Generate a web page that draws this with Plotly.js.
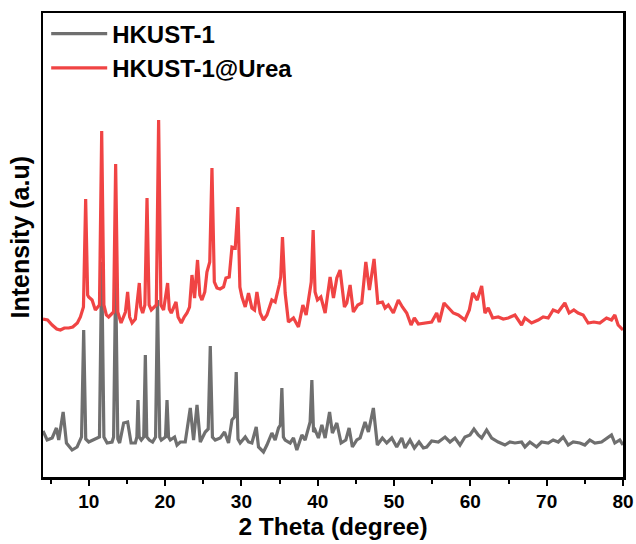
<!DOCTYPE html>
<html>
<head>
<meta charset="utf-8">
<script src="https://cdn.plot.ly/plotly-3.0.1.min.js"></script>
<style>html,body{margin:0;padding:0;background:#fff;}#chart{width:636px;height:544px;}</style>
</head>
<body>
<div id="chart"></div>
<script>
// 2θ positions (degree) and intensities (a.u.)
const seriesNames = ["HKUST-1", "HKUST-1@Urea"];

const hkustX = [4.0,4.54,5.2,5.76,6.06,6.64,7.07,7.81,8.47,8.9,9.05,9.33,9.6,9.99,10.64,11.4,11.69,11.98,12.4,13.05,13.25,13.52,13.8,14.04,14.57,15.09,15.54,16.1,16.3,16.45,16.6,16.88,17.2,17.41,17.6,17.93,18.36,18.75,19.0,19.3,19.5,20.05,20.25,20.45,20.68,21.24,21.56,21.99,22.64,23.3,23.73,24.18,24.61,25.26,25.65,25.92,26.2,26.57,27.23,27.79,28.31,28.76,29.1,29.32,29.55,29.84,30.5,30.93,31.37,31.94,32.24,32.89,33.34,33.99,34.42,34.86,35.1,35.3,35.5,35.73,36.39,36.82,37.26,37.92,38.35,38.87,39.0,39.23,39.45,39.66,40.09,40.54,40.97,41.55,41.92,42.5,43.06,43.68,44.11,44.54,45.12,45.55,46.2,46.64,47.29,47.81,48.47,49.04,49.7,50.35,51.01,51.44,52.09,52.66,53.27,53.84,54.28,54.93,55.8,56.68,57.33,57.98,58.64,59.29,59.95,60.47,61.03,61.48,62.13,62.79,63.65,64.53,65.18,65.84,66.71,67.15,67.8,68.68,69.33,70.2,70.85,71.51,72.16,72.82,73.47,74.35,75.0,75.65,76.31,77.19,77.84,78.49,78.93,79.58,80.0];
const hkustY = [46,37,39,49,37,65,34,27,30,37,40,147,38,35,37,40,215,40,34,35,40,200,38,34,54,55,34,34,40,77,40,37,40,122,40,37,35,40,177,40,37,40,77,40,37,40,32,35,35,69,37,72,35,45,48,131,40,37,39,45,34,57,60,105,38,34,40,35,34,50,30,25,32,44,37,49,52,89,40,37,34,39,27,42,37,52,55,97,45,47,39,52,39,65,44,54,34,37,49,30,37,39,55,45,69,32,39,34,39,30,39,29,37,29,35,29,30,36,35,40,35,39,32,40,42,48,42,39,47,39,35,32,35,34,35,30,35,30,35,34,37,35,40,32,35,34,32,37,34,35,39,42,34,37,32];

const ureaX = [4.0,4.6,5.2,5.8,6.28,6.8,7.37,7.9,8.5,8.9,9.3,9.59,9.85,9.99,10.43,10.86,11.4,11.69,11.98,12.3,12.6,13.25,13.52,13.8,14.23,14.8,15.09,15.35,15.67,16.1,16.62,16.8,17.06,17.35,17.63,17.9,18.19,18.85,19.15,19.45,19.8,20.33,20.55,20.81,21.43,21.7,22.12,22.5,22.87,23.2,23.52,23.86,24.25,24.55,24.83,25.2,25.48,25.85,26.14,26.45,26.79,27.2,27.66,27.97,28.4,28.76,29.19,29.54,29.8,30.07,30.5,30.93,31.37,31.72,32.03,32.46,32.89,33.34,33.99,34.42,34.95,35.15,35.38,35.6,35.73,36.16,36.82,37.47,38.05,38.48,39.01,39.15,39.4,39.65,39.96,40.41,40.97,41.62,42.06,42.5,42.93,43.5,43.81,44.24,44.67,45.25,45.77,46.3,46.77,47.38,47.87,48.47,48.82,49.25,49.91,50.56,51.09,51.66,52.23,52.66,53.18,53.84,54.28,54.93,55.59,55.93,56.55,57.11,57.76,58.42,59.29,59.86,60.3,60.9,61.48,61.91,62.34,62.92,63.65,64.31,64.96,65.84,66.71,67.15,68.02,68.89,69.54,70.2,70.85,71.51,72.38,72.94,73.56,74.12,74.78,75.43,76.18,76.96,77.84,78.49,78.93,79.36,80.0];
const ureaY = [158,157,152,148,147,149,149,150,154,160,170,278,182,180,177,167,172,346,172,162,160,165,313,165,154,165,185,160,154,158,194,170,164,172,279,172,167,172,357,172,167,194,168,164,175,160,154,160,164,170,202,179,217,182,177,185,205,215,309,195,189,188,190,199,200,230,229,270,190,180,170,184,169,167,185,164,157,162,177,175,192,200,240,192,184,155,159,150,172,162,190,195,247,185,177,180,164,200,179,199,207,170,174,192,165,172,174,215,187,218,174,175,169,172,164,177,170,164,152,159,153,154,154,155,164,155,174,169,164,162,157,167,184,177,191,164,169,159,160,158,159,162,152,159,154,157,160,159,167,165,174,164,167,164,162,154,155,154,159,157,162,152,147];

const xTicks = [10,20,30,40,50,60,70,80];
const xTickText = ["10","20","30","40","50","60","70","80"];
const xMinorTicks = [5,15,25,35,45,55,65,75];

const data = [
  {x: hkustX, y: hkustY, name: seriesNames[0], type: "scatter", mode: "lines",
   line: {color: "#6f6f6f", width: 3.2}},
  {x: ureaX, y: ureaY, name: seriesNames[1], type: "scatter", mode: "lines",
   line: {color: "#f04444", width: 3.2}}
];

const boldFont = {family: "Liberation Sans, Arial, sans-serif", color: "#000", weight: "bold"};

const layout = {
  width: 636, height: 544,
  margin: {l: 43, r: 13, t: 13, b: 67},
  paper_bgcolor: "#fff", plot_bgcolor: "#fff",
  showlegend: true,
  legend: {x: 0.0055, y: 1.003, xanchor: "left", yanchor: "top", bgcolor: "rgba(0,0,0,0)",
           itemwidth: 56,
           font: Object.assign({}, boldFont, {size: 24}), tracegroupgap: 0},
  xaxis: {
    range: [4, 80], tickvals: xTicks, ticktext: xTickText,
    showgrid: false, zeroline: false,
    showline: true, linecolor: "#000", linewidth: 2.5, mirror: true,
    ticks: "outside", ticklen: 6, tickwidth: 2, tickcolor: "#000",
    minor: {tickvals: xMinorTicks, ticks: "outside", ticklen: 4, tickwidth: 2, tickcolor: "#000"},
    tickfont: Object.assign({}, boldFont, {size: 19}),
    title: {text: "2 Theta (degree)", font: Object.assign({}, boldFont, {size: 24.5}), standoff: 7}
  },
  yaxis: {
    range: [0, 464], showgrid: false, zeroline: false,
    showline: true, linecolor: "#000", linewidth: 2.5, mirror: true,
    ticks: "", showticklabels: false
  },
  annotations: [{
    text: "Intensity (a.u)", textangle: -90, showarrow: false,
    xref: "paper", yref: "paper", x: -0.04, y: 0.518, xanchor: "center", yanchor: "middle",
    font: Object.assign({}, boldFont, {size: 25})
  }]
};

Plotly.newPlot("chart", data, layout, {displayModeBar: false, staticPlot: true});
</script>
</body>
</html>
